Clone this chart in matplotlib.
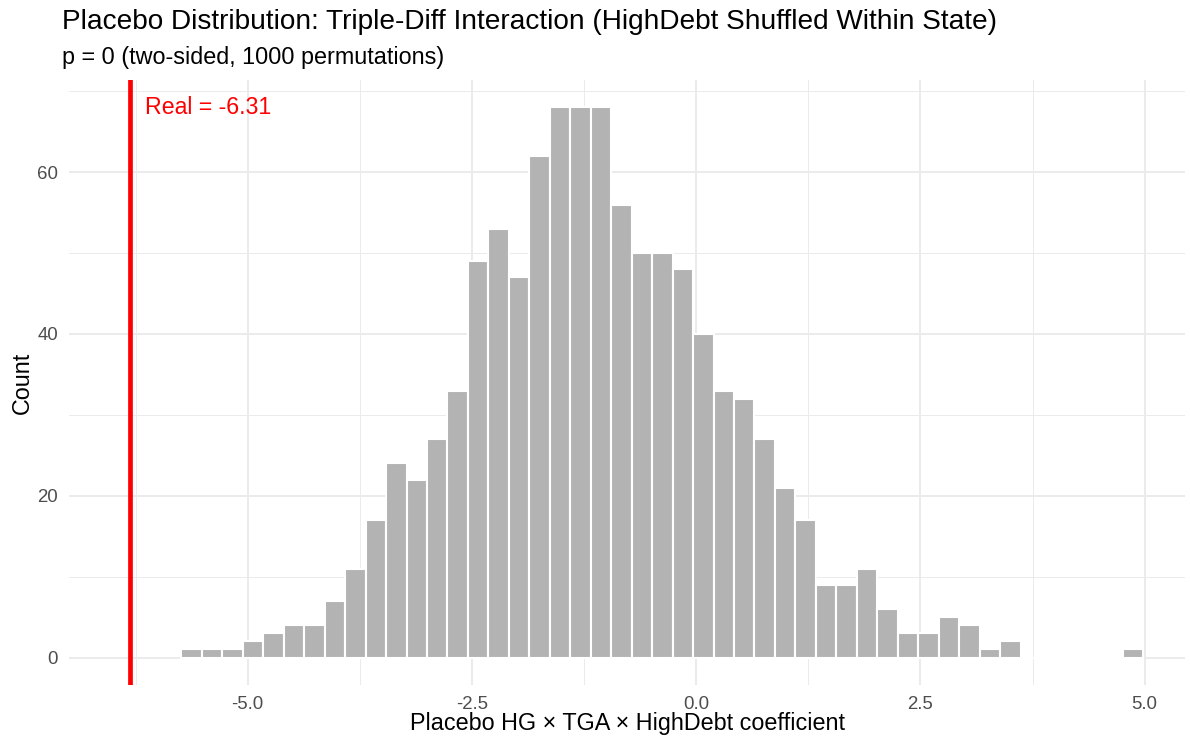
import numpy as np
import matplotlib.pyplot as plt

# placebo permutation histogram (1000 draws)
counts = [1, 1, 1, 2, 3, 4, 4, 7, 11, 17,
          24, 22, 27, 33, 49, 53, 47, 62, 68, 68,
          68, 56, 50, 50, 48, 40, 33, 32, 27, 21,
          17, 9, 9, 11, 6, 3, 3, 5, 4, 1,
          2, 0, 0, 0, 0, 0, 1]
bin_start = -5.74
bin_width = 0.2282
real_coef = -6.31
n_perm = 1000
p_value = 0

title = "Placebo Distribution: Triple-Diff Interaction (HighDebt Shuffled Within State)"
subtitle = f"p = {p_value} (two-sided, {n_perm} permutations)"
xlabel = "Placebo HG \u00d7 TGA \u00d7 HighDebt coefficient"
ylabel = "Count"

plt.rcParams["font.family"] = ["Liberation Sans", "DejaVu Sans"]

edges = bin_start + bin_width * np.arange(len(counts) + 1)

fig = plt.figure(figsize=(11.9, 7.42), dpi=100)
ax = fig.add_axes([0.0582, 0.0768, 0.9376, 0.8154])

ax.hist(edges[:-1], bins=edges, weights=counts, color="#B3B3B3",
        edgecolor="white", linewidth=1.5, zorder=2)
ax.axvline(real_coef, color="#FF0000", linewidth=3.4, zorder=3)
ax.text(real_coef + 0.17, max(counts), f"Real = {real_coef}", color="#FF0000",
        fontsize=16.7, ha="left", va="center", zorder=4)

ax.set_xlim(-6.99, 5.45)
ax.set_ylim(-3.4, 71.4)
ax.set_xticks([-5.0, -2.5, 0.0, 2.5, 5.0])
ax.set_xticklabels(["-5.0", "-2.5", "0.0", "2.5", "5.0"])
ax.set_xticks([-6.25, -3.75, -1.25, 1.25, 3.75], minor=True)
ax.set_yticks([0, 20, 40, 60])
ax.set_yticks([10, 30, 50, 70], minor=True)

ax.grid(True, which="major", color="#EBEBEB", linewidth=1.4, zorder=0)
ax.grid(True, which="minor", color="#EBEBEB", linewidth=0.7, zorder=0)
ax.set_axisbelow(True)
for s in ax.spines.values():
    s.set_visible(False)
ax.tick_params(which="both", length=0, labelsize=13.4, labelcolor="#4D4D4D")
ax.tick_params(axis="x", pad=8)
ax.tick_params(axis="y", pad=8)

ax.set_xlabel(xlabel, fontsize=16.8, color="black", labelpad=-1)
ax.set_ylabel(ylabel, fontsize=16.8, color="black", labelpad=2)

fig.text(62 / 1190, 1 - 29 / 742, title, fontsize=20.2, ha="left", va="baseline")
fig.text(62 / 1190, 1 - 64 / 742, subtitle, fontsize=16.8, ha="left", va="baseline")

fig.savefig("out.png", dpi=100)
